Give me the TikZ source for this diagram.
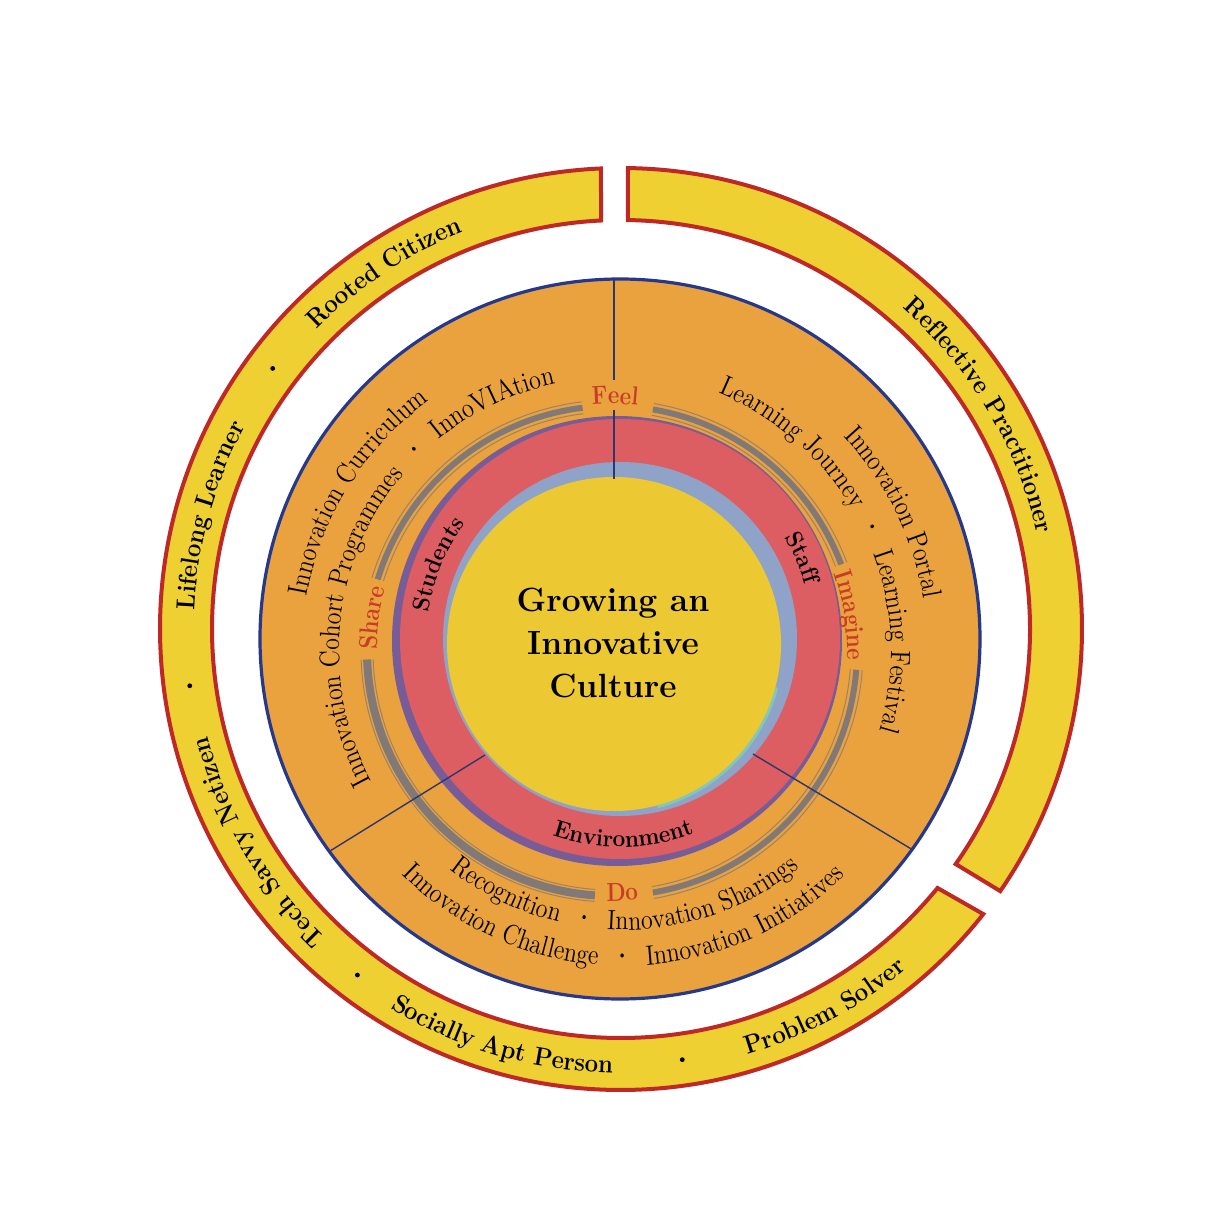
\documentclass[tikz,border=0pt]{standalone}
\usepackage{fontspec}
\usetikzlibrary{calc,decorations.text}
\newfontfamily\lmA[FakeStretch=0.92]{Latin Modern Roman}
\newfontfamily\lmB[FakeStretch=0.86]{Latin Modern Roman}
\newfontfamily\lmC[FakeStretch=0.94]{Latin Modern Roman}
\newfontfamily\lmD[FakeStretch=0.86]{Latin Modern Roman}
\definecolor{ringyellow}{RGB}{238,208,50}
\definecolor{ringred}{RGB}{190,40,38}
\definecolor{discorange}{RGB}{233,162,62}
\definecolor{discblue}{RGB}{38,56,140}
\definecolor{redring}{RGB}{220,94,98}
\definecolor{ltblue}{RGB}{143,163,200}
\definecolor{coreyellow}{RGB}{236,200,50}
\definecolor{purpleband}{RGB}{120,92,152}
\definecolor{arcgray}{RGB}{128,121,120}
\definecolor{labelred}{RGB}{200,60,40}
\definecolor{divblue}{RGB}{45,55,110}
\definecolor{tealtint}{RGB}{130,200,185}
\newcommand\fOuter{\lmA\fontsize{13}{15}\selectfont\bfseries}
\newcommand\fMid{\lmB\fontsize{14}{16}\selectfont}
\newcommand\fRing{\lmC\fontsize{12}{14}\selectfont\bfseries}
\newcommand\fLab{\lmD\fontsize{13}{15}\selectfont\bfseries\color{labelred}}
% clockwise text (tops outward), counter-clockwise text (tops inward)
\newcommand\cwtext[5]{\path[decorate,decoration={text along path,text={#5},text align=center}]
  ($(#1)+({#3+#4}:#2)$) arc[start angle={#3+#4},end angle={#3-#4},radius=#2];}
\newcommand\ccwtext[5]{\path[decorate,decoration={text along path,text={#5},text align=center}]
  ($(#1)+({#3-#4}:#2)$) arc[start angle={#3-#4},end angle={#3+#4},radius=#2];}
\tikzset{
  outerseg/.style={fill=ringyellow,draw=ringred,line width=2pt,line join=miter},
  grayarc/.style={draw=arcgray,line width=3pt},
  thinarc/.style={draw=arcgray!75!discorange,line width=0.5pt},
  divider/.style={draw=divblue,line width=0.7pt},
  dot/.style={fill=black}
}
\begin{document}
\begin{tikzpicture}[x=0.5pt,y=0.5pt]
\useasboundingbox (-620,-576) rectangle (595,639);
\fill[white] (-620,-576) rectangle (595,639);
\coordinate (O) at (0,0);
\coordinate (C2) at (1,10);
\coordinate (G) at (-8,-12);
\coordinate (Gb) at (4,-12);
\coordinate (Y) at (-6,-5);

% outer ring segments
\draw[outerseg] ($(C2)+(89.13:461)$) arc[start angle=89.13,end angle=-34.65,radius=461]
  -- ($(C2)+(-35.08:409)$) arc[start angle=-35.08,end angle=89.02,radius=409] -- cycle;
\draw[outerseg] ($(C2)+(92.49:461)$) arc[start angle=92.49,end angle=321.8,radius=461]
  -- ($(C2)+(320.71:409)$) arc[start angle=320.71,end angle=92.80,radius=409] -- cycle;

% orange disc
\fill[discorange] (O) circle[radius=360];

% gray arcs
\foreach \a/\b/\w in {96.9/163/3,80.4/20.7/3,-4.4/-80.4/3,266/182/4}{
  \draw[grayarc,line width=\w pt] ($(G)+(\a:245)$) arc[start angle=\a,end angle=\b,radius=245];
  \draw[thinarc] ($(G)+(\a:251)$) arc[start angle=\a,end angle=\b,radius=251];
  \draw[thinarc] ($(G)+(\a:239)$) arc[start angle=\a,end angle=\b,radius=239];
}

% inner rings
\fill[purpleband] (-3,-2) circle[radius=225];
\fill[redring] (O) circle[radius=220];
\fill[ltblue] (O) circle[radius=177];
\draw[tealtint,line width=2pt] ($(Y)+(-75:168)$) arc[start angle=-75,end angle=-15,radius=168];
\fill[coreyellow] (Y) circle[radius=167];

% dividers
\draw[divider] (-6,160) -- (-6,229);
\draw[divider] (-6,259) -- (-6,359);
\draw[divider] (-135,-116) -- (-290,-212);
\draw[divider] (133,-115) -- (293,-211);

% blue outline
\draw[discblue,line width=1.6pt] (O) circle[radius=360];

% outer ring texts
\cwtext{C2}{427}{123.6}{28}{|\fOuter|Rooted Citizen}
\cwtext{C2}{427}{164.5}{28}{|\fOuter|Lifelong Learner}
\cwtext{C2}{427}{210.4}{28}{|\fOuter|Tech Savvy Netizen}
\ccwtext{C2}{444}{253.8}{28}{|\fOuter|Socially Apt Person}
\ccwtext{C2}{444}{298.3}{22}{|\fOuter|Problem Solver}
\cwtext{C2}{427}{30.8}{30}{|\fOuter|Reflective Practitioner}
\foreach \t in {143.2,187.5,232.7,278.1}{
  \fill[dot] ($(C2)+(\t:435)$) circle[radius=2.4];
}

% orange ring texts
\cwtext{G}{310}{148}{30}{|\fMid|Innovation Curriculum}
\cwtext{G}{273}{155.2}{60}{|\fMid|Innovation Cohort Programmes{\kern3pt} {\bfseries·} {\kern3pt}InnoVIAtion}
\cwtext{G}{316}{26.2}{25}{|\fMid|Innovation Portal}
\cwtext{G}{279}{25.5}{50}{|\fMid|Learning Journey{\kern3pt} {\bfseries·} {\kern3pt}Learning Festival}
\ccwtext{Gb}{279}{270.2}{50}{|\fMid|Recognition{\kern3pt} {\bfseries·} {\kern3pt}Innovation Sharings}
\ccwtext{Gb}{315}{269.9}{55}{|\fMid|Innovation Challenge{\kern3pt} {\bfseries·} {\kern3pt}Innovation Initiatives}

% red ring texts
\cwtext{O}{193}{157.7}{25}{|\fRing|Students}
\cwtext{O}{193}{24}{20}{|\fRing|Staff}
\ccwtext{O}{208}{271}{35}{|\fRing|Environment}

% stage labels
\cwtext{G}{247}{89.3}{12}{|\fLab|Feel}
\cwtext{G}{235}{8.5}{14}{|\fLab|Imagine}
\cwtext{G}{235}{172}{12}{|\fLab|Share}
\ccwtext{G}{250}{272.4}{10}{|\fLab|Do}

% centre title
\node[font=\fontsize{16.8}{21.5}\selectfont\bfseries,align=center,inner sep=0pt] (title) at (-7,-4)
  {Growing an\\Innovative\\Culture};
\end{tikzpicture}
\end{document}
